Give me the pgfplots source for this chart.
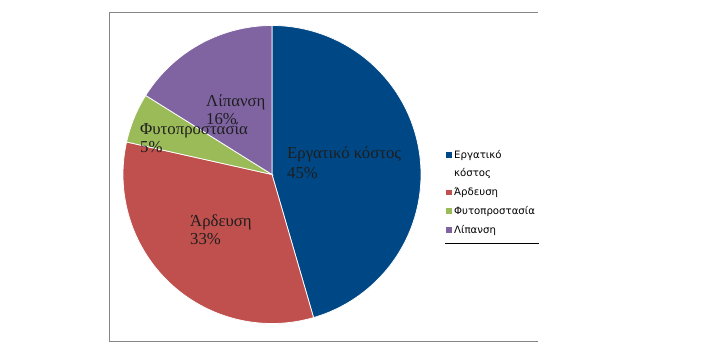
\documentclass[border=0pt]{standalone}
\usepackage{pgfplots}
\pgfplotsset{compat=1.18}
\usepackage{pgfplotstable}
\usepackage{fontspec}
\setmainfont{Liberation Serif}
\newfontfamily\legfont{DejaVu Sans}
\definecolor{pieblue}{RGB}{0,72,133}
\definecolor{piered}{RGB}{192,80,77}
\definecolor{piegreen}{RGB}{155,187,89}
\definecolor{piepurple}{RGB}{128,100,162}
\definecolor{framegray}{RGB}{134,134,134}
\definecolor{labelcol}{RGB}{30,30,30}

\pgfplotstableread{
value
45.5
33.0
5.4
16.1
}\piedata

\begin{document}%
\pgfplotstablegetelem{0}{value}\of\piedata\let\vA\pgfplotsretval%
\pgfplotstablegetelem{1}{value}\of\piedata\let\vB\pgfplotsretval%
\pgfplotstablegetelem{2}{value}\of\piedata\let\vC\pgfplotsretval%
\pgfplotstablegetelem{3}{value}\of\piedata\let\vD\pgfplotsretval%
\pgfmathsetmacro\aA{3.6*\vA}%
\pgfmathsetmacro\aB{\aA+3.6*\vB}%
\pgfmathsetmacro\aC{\aB+3.6*\vC}%
\pgfmathsetmacro\aD{\aC+3.6*\vD}%
\begin{tikzpicture}
\begin{axis}[
  at={(0,0)}, anchor=north west,
  scale only axis, width=714bp, height=353bp,
  xmin=0, xmax=714, ymin=0, ymax=353, y dir=reverse,
  hide axis, clip=false,
  legend style={at={(axis cs:446,151)}, anchor=north west, draw=none, fill=none,
    inner xsep=0pt, inner ysep=0pt,
    font=\legfont\fontsize{10.2}{11}\selectfont,
    cells={anchor=base west},
    nodes={inner sep=0pt, text height=7bp, text depth=2bp},
    row sep=9.75bp, column sep=2.5bp},
  legend image code/.code={\fill[#1,draw=none] (0bp,0.5bp) rectangle (5.5bp,6bp);},
]
\fill[white] (axis cs:0,0) rectangle (axis cs:714,353);
\draw[framegray, line width=1bp] (axis cs:538,12) -- (axis cs:109,12) -- (axis cs:109,341) -- (axis cs:538,341);

\addplot[fill=pieblue, draw=white, line width=0.75bp, domain=0:\aA, samples=120, variable=\t]
  ({272+149*sin(\t)}, {174.5-149*cos(\t)}) -- (axis cs:272,174.5) -- cycle;
\addlegendentry{Εργατικό}
\addlegendimage{empty legend}
\addlegendentry{κόστος}
\addplot[fill=piered, draw=white, line width=0.75bp, domain=\aA:\aB, samples=100, variable=\t]
  ({272+149*sin(\t)}, {174.5-149*cos(\t)}) -- (axis cs:272,174.5) -- cycle;
\addlegendentry{Άρδευση}
\addplot[fill=piegreen, draw=white, line width=0.75bp, domain=\aB:\aC, samples=30, variable=\t]
  ({272+149*sin(\t)}, {174.5-149*cos(\t)}) -- (axis cs:272,174.5) -- cycle;
\addlegendentry{Φυτοπροστασία}
\addplot[fill=piepurple, draw=white, line width=0.75bp, domain=\aC:\aD, samples=60, variable=\t]
  ({272+149*sin(\t)}, {174.5-149*cos(\t)}) -- (axis cs:272,174.5) -- cycle;
\addlegendentry{Λίπανση}

\draw[black, line width=1bp] (axis cs:445,243) -- (axis cs:539,243);

\tikzset{lab/.style={anchor=base west, inner sep=0pt, text=labelcol, font=\fontsize{16.8}{19}\selectfont}}
\node[lab] at (axis cs:287,158) {Εργατικό κόστος};
\node[lab] at (axis cs:287,178) {45\%};
\node[lab] at (axis cs:190,226) {Άρδευση};
\node[lab] at (axis cs:190,244) {33\%};
\node[lab] at (axis cs:140,134) {Φυτοπροστασία};
\node[lab] at (axis cs:140,152) {5\%};
\node[lab] at (axis cs:206,106) {Λίπανση};
\node[lab] at (axis cs:206,124) {16\%};
\end{axis}
\pgfresetboundingbox
\path[use as bounding box] (0,0) rectangle (714bp,-353bp);
\end{tikzpicture}%
\end{document}
